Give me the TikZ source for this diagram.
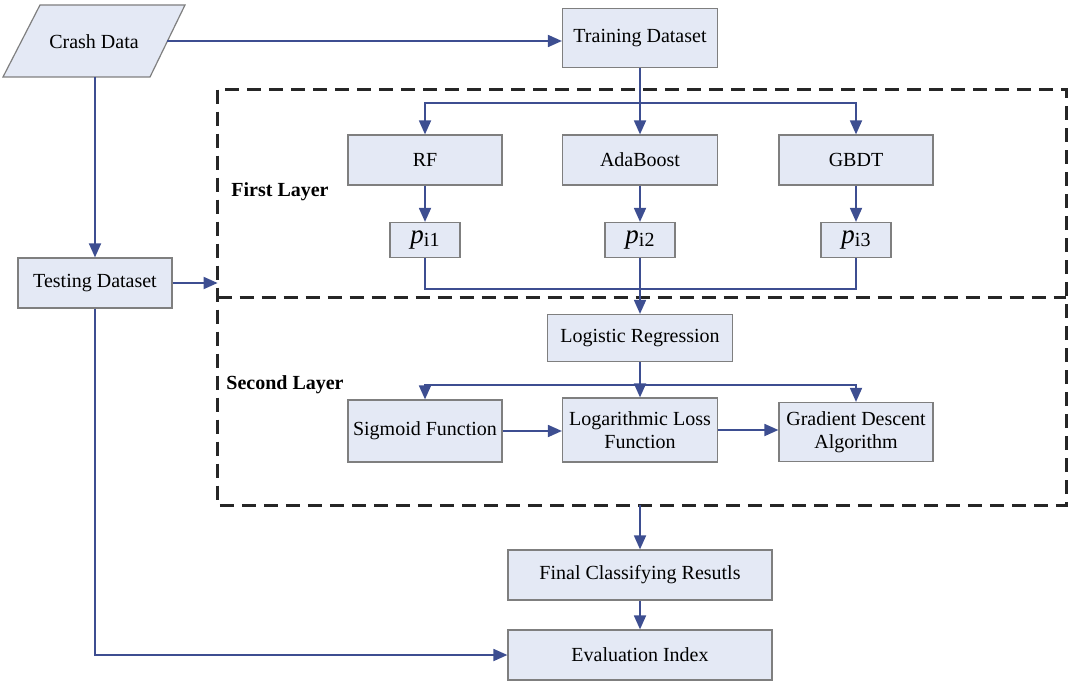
\documentclass[tikz,border=0pt]{standalone}
\usepackage{fontspec}
\setmainfont{Liberation Serif}
\usetikzlibrary{arrows.meta,calc}
\definecolor{boxfill}{HTML}{E4E9F5}
\definecolor{boxline}{HTML}{7F7F7F}
\definecolor{flow}{HTML}{3D4E91}
\tikzset{
  box/.style={draw=boxline, fill=boxfill, line width=0.6pt, align=center,
    inner sep=1pt, font=\fontsize{10}{11.5}\selectfont},
  arr/.style={draw=flow, line width=0.9pt, -{Triangle[length=7pt,width=6pt]}},
  ln/.style={draw=flow, line width=0.9pt},
  layer/.style={draw=black!85, line width=1.2pt, dash pattern=on 7pt off 4pt},
  region/.style={draw=none, inner sep=0pt},
  lbl/.style={font=\fontsize{10}{11.5}\selectfont\bfseries},
}
\newcommand{\pvar}[1]{{\fontsize{13.5}{13.5}\selectfont\itshape p}\raisebox{-0.3ex}{\fontsize{10}{10}\selectfont i#1}}
\begin{document}
\begin{tikzpicture}[x=0.5pt,y=-0.5pt]
\useasboundingbox (0,0) rectangle (1070,684);

% layer regions (anchors) and their dashed frames, shared edge drawn once
\node[region, minimum width=424pt, minimum height=103.5pt] (L1) at (642,193.5) {};
\node[region, minimum width=424pt, minimum height=104pt] (L2) at (642,401) {};
\draw[layer] (L1.north west) rectangle (L2.south east);
\draw[layer] (L1.south west) -- (L1.south east);
\node[lbl] (first) at (280,192) {First Layer};
\node[lbl] (second) at (285,385) {Second Layer};

% input data (parallelogram)
\draw[draw=boxline, fill=boxfill, line width=0.6pt] (40,5) -- (185,5) -- (150,77) -- (3,77) -- cycle;
\node[font=\fontsize{10}{11.5}\selectfont] (crash) at (94,42) {Crash Data};
\coordinate (crashR) at (167,41);
\coordinate (crashB) at (95,77);

% boxes
\node[box, minimum width=77.5pt, minimum height=29.5pt] (train) at (640,38) {Training Dataset};
\node[box, minimum width=77pt, minimum height=25pt] (test) at (95,283) {Testing Dataset};

\node[box, minimum width=77pt, minimum height=25pt] (rf) at (425,160) {RF};
\node[box, minimum width=77.5pt, minimum height=25pt] (ada) at (640,160) {AdaBoost};
\node[box, minimum width=77pt, minimum height=25pt] (gbdt) at (856,160) {GBDT};

\node[box, minimum width=35pt, minimum height=17.5pt] (p1) at (425,240) {\pvar{1}};
\node[box, minimum width=35pt, minimum height=17.5pt] (p2) at (640,240) {\pvar{2}};
\node[box, minimum width=35pt, minimum height=17.5pt] (p3) at (856,240) {\pvar{3}};

\node[box, minimum width=92.5pt, minimum height=23.5pt] (logreg) at (640,338) {Logistic Regression};
\node[box, minimum width=77pt, minimum height=31pt] (sig) at (425,431) {Sigmoid Function};
\node[box, minimum width=77.5pt, minimum height=32pt] (loss) at (640,430) {Logarithmic Loss\\Function};
\node[box, minimum width=77pt, minimum height=29.5pt] (grad) at (856,432) {Gradient Descent\\Algorithm};

\node[box, minimum width=132pt, minimum height=25pt] (final) at (640,575) {Final Classifying Resutls};
\node[box, minimum width=132pt, minimum height=25pt] (eval) at (640,655) {Evaluation Index};

% connectors
\draw[arr] (crashR) -- (crashR -| train.west);
\draw[arr] (crashB) -- (crashB |- test.north);
\draw[arr] (test.east) -- (test.east -| L1.west);
\draw[arr] (test.south) |- (eval.west);

\coordinate (s1) at (640,103);
\draw[ln] (train.south) -- (s1);
\draw[arr] (s1) -- (ada.north);
\draw[arr] (s1) -| (rf.north);
\draw[arr] (s1) -| (gbdt.north);

\draw[arr] (rf.south) -- (p1.north);
\draw[arr] (ada.south) -- (p2.north);
\draw[arr] (gbdt.south) -- (p3.north);

\coordinate (m1) at (640,289);
\draw[ln] (p1.south) |- (m1);
\draw[ln] (p3.south) |- (m1);
\draw[arr] (p2.south) -- (logreg.north);

\coordinate (s2) at (640,385);
\draw[ln] (logreg.south) -- (s2);
\draw[arr] (s2) -- (loss.north);
\draw[arr] (s2) -| (sig.north);
\draw[arr] (s2) -| (grad.north);

\draw[arr] (sig.east) -- (sig.east -| loss.west);
\draw[arr] (loss.east) -- (loss.east -| grad.west);

\draw[arr] (final.north |- L2.south) -- (final.north);
\draw[arr] (final.south) -- (eval.north);
\end{tikzpicture}
\end{document}
